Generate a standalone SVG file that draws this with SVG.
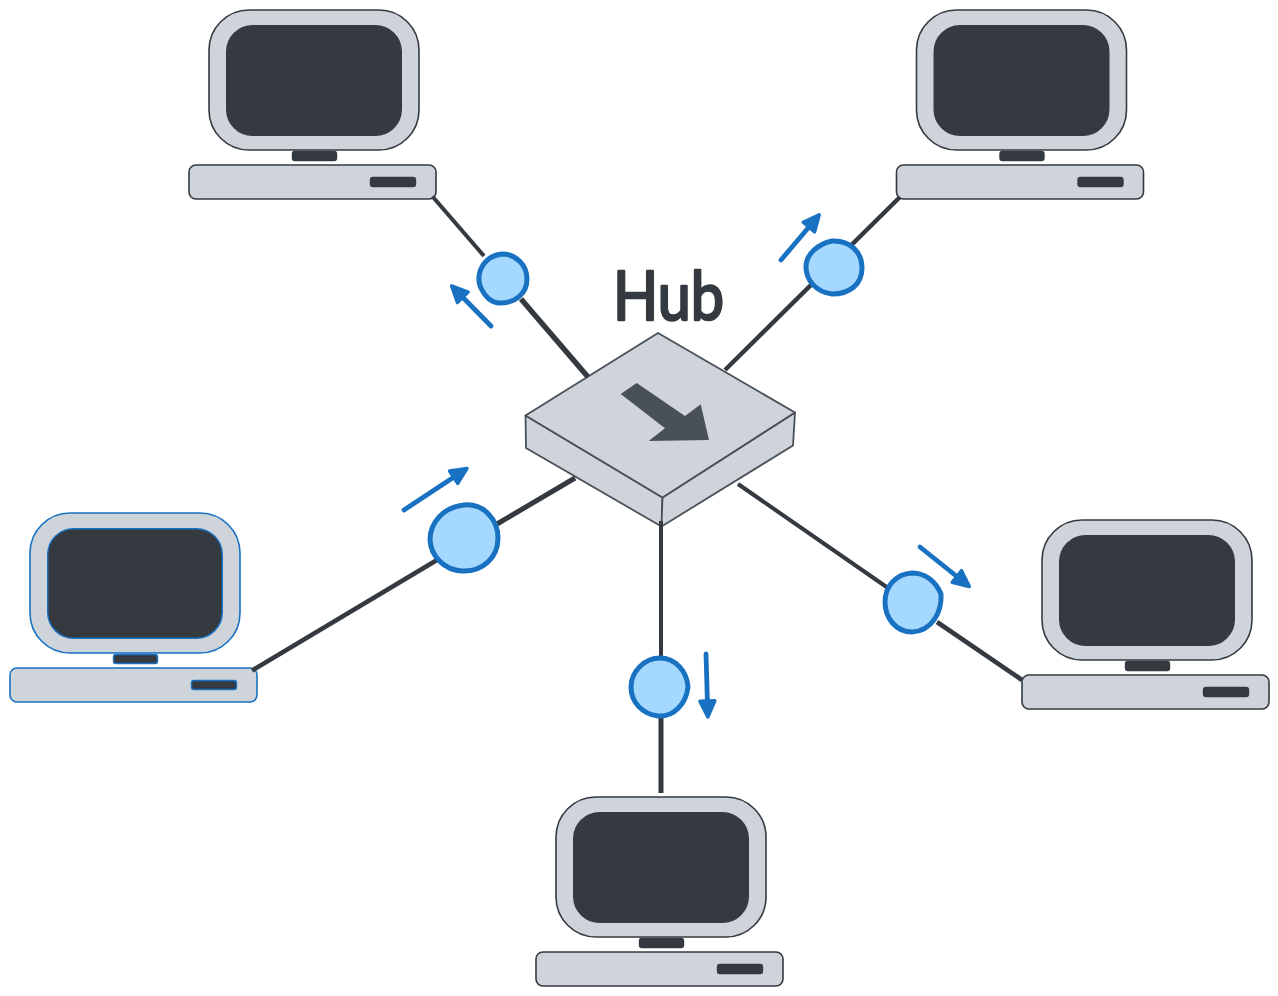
<svg xmlns="http://www.w3.org/2000/svg" width="1278" height="996" viewBox="0 0 1278 996">
  <style>
    .body { fill: #ced4da; stroke-width: 1.6; }
    .dark { fill: #343a40; stroke-width: 1.4; }
    .pc-dark { stroke: #343a40; }
    .pc-blue { stroke: #1971c2; }
    .wire { stroke: #343a40; fill: none; stroke-linecap: butt; }
    .tap { fill: #a5d8ff; stroke: #1971c2; stroke-width: 5; stroke-linejoin: round; }
    .flow { stroke: #1971c2; stroke-width: 4.8; stroke-linecap: round; fill: none; marker-end: url(#head); }
    .hub-face { fill: #ced4da; stroke: #495057; stroke-width: 1.8; stroke-linejoin: round; }
    .label { font-family: "Lato", "Noto Sans", sans-serif; font-size: 68px; fill: #343a40; stroke: #343a40; stroke-width: 2.6px; stroke-linejoin: round; }
  </style>
  <defs>
    <marker id="head" markerUnits="userSpaceOnUse" markerWidth="26" markerHeight="26" refX="6" refY="11" orient="auto">
      <path d="M2,3.5 L18,11 L2,18.5 Z" fill="#1971c2" stroke="#1971c2" stroke-width="3.4" stroke-linejoin="round"/>
    </marker>
    <!-- Computer: monitor, screen, stand, base and drive slot -->
    <g id="computer">
      <rect class="body" x="209" y="10" width="210" height="140" rx="40" ry="40"/>
      <rect class="dark" x="226.7" y="25.7" width="174.6" height="109.6" rx="26" ry="26"/>
      <rect class="dark" x="292.5" y="151.5" width="44" height="9" rx="2.5"/>
      <rect class="body" x="189" y="165" width="247" height="34" rx="7"/>
      <rect class="dark" x="370.5" y="177.5" width="45" height="9" rx="2.5"/>
    </g>
  </defs>

  <g id="computer-top-left" class="pc-dark"><use href="#computer"/></g>
  <g id="computer-top-right" class="pc-dark"><use href="#computer" x="707.5"/></g>
  <g id="computer-left" class="pc-blue"><use href="#computer" x="-179" y="503"/></g>
  <g id="computer-right" class="pc-dark"><use href="#computer" x="833" y="510"/></g>
  <g id="computer-bottom" class="pc-dark"><use href="#computer" x="347" y="787"/></g>

  <g id="hub">
    <path class="hub-face" d="M525.5,415.5 L526,448 L661.5,526.5 L662.5,497.5 Z"/>
    <path class="hub-face" d="M662.5,497.5 L661.5,526.5 L793,445.5 L795,412.5 Z"/>
    <path class="hub-face" d="M658,333 L795,412.5 L662.5,497.5 L525.5,415.5 Z"/>
    <path fill="#495057" d="M636.7,383 L685,416 L700.7,404.3 L709,440 L648.7,441 L665,428.3 L620.7,394 Z"/>
    <text class="label" x="613" y="320" textLength="111" lengthAdjust="spacingAndGlyphs">Hub</text>
  </g>

  <g id="connectors">
    <path class="wire" stroke-width="4" d="M432.5,196.5 L484,256"/>
    <path class="wire" stroke-width="5.4" d="M521,299 L588,377"/>
    <path class="wire" stroke-width="4.4" d="M900,197 L725,370"/>
    <path class="wire" stroke-width="4.6" d="M252,670.5 L437,560"/>
    <path class="wire" stroke-width="5" d="M497,524 L575,478"/>
    <path class="wire" stroke-width="4" d="M738,484 L888,588"/>
    <path class="wire" stroke-width="4.6" d="M937,622 L1022,680"/>
    <path class="wire" stroke-width="4" d="M661,521 L661,660"/>
    <path class="wire" stroke-width="5" d="M661,715 L661,793"/>
  </g>

  <g id="tap-top-left">
    <path class="tap" d="M502,254 C516,254 527,265 527,279 C527,293 516,303 500,303 C490,303 484,295 480,286 C476,272 484,256 502,254 Z"/>
  </g>
  <g id="tap-top-right">
    <path class="tap" d="M832,241 C850,240 862,252 862,268 C862,284 850,294 832,294 C816,292 806,280 806,267 C806,254 818,244 832,241 Z"/>
  </g>
  <g id="tap-left">
    <path class="tap" d="M464,505 C484,503 498,520 498,538 C498,558 482,572 462,571 C444,570 431,556 430,540 C430,522 444,507 464,505 Z"/>
  </g>
  <g id="tap-right">
    <path class="tap" d="M912,573 C926,573 936,582 941,594 C942,612 932,631 912,632 C896,632 885,618 885,602 C885,586 896,574 912,573 Z"/>
  </g>
  <g id="tap-bottom">
    <path class="tap" d="M660,658 C676,658 687,672 688,687 C686,704 674,717 658,716 C642,714 631,702 631,687 C631,672 644,658 660,658 Z"/>
  </g>

  <g id="flow-arrows">
    <path class="flow" d="M491,326 L460,294.5"/>
    <path class="flow" d="M781,260 L811.5,224"/>
    <path class="flow" d="M404,510 L457,475"/>
    <path class="flow" d="M920,547 L960,579"/>
    <path class="flow" d="M706,654 L707.5,705"/>
  </g>
</svg>
